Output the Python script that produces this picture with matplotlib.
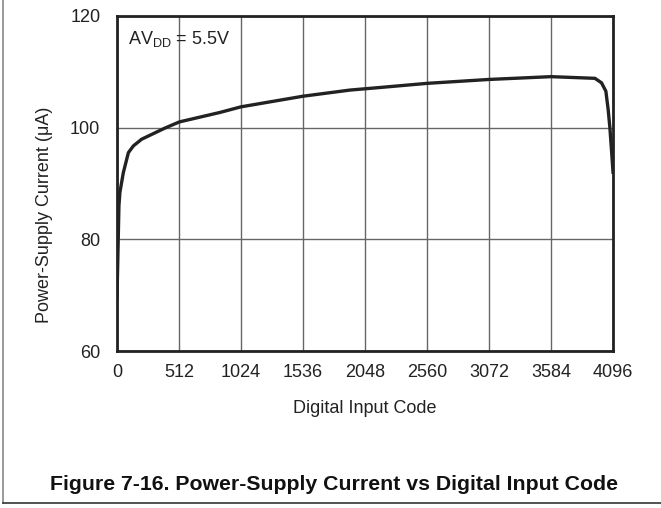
import matplotlib
matplotlib.use("Agg")
import matplotlib.pyplot as plt
from matplotlib.lines import Line2D

plt.rcParams["font.family"] = ["Liberation Sans", "DejaVu Sans"]

# data
code = [0, 16, 24, 52, 94, 135, 203, 314, 396, 515, 851, 1024, 1536, 1924,
        2193, 2560, 3072, 3584, 3947, 4001, 4037, 4056, 4070, 4085, 4096]
current = [69.5, 86.0, 88.4, 91.9, 95.5, 96.7, 97.9, 99.05, 99.9, 101.0, 102.7,
           103.7, 105.6, 106.7, 107.2, 107.9, 108.6, 109.1, 108.8, 108.0,
           106.5, 103.2, 100.0, 95.5, 92.0]
xticks = [0, 512, 1024, 1536, 2048, 2560, 3072, 3584, 4096]
yticks = [60, 80, 100, 120]

fig = plt.figure(figsize=(6.61, 5.08), dpi=100)
ax = fig.add_axes([0.177, 0.309, 0.7504, 0.660])

ax.plot(code, current, color="#222222", linewidth=2.4, solid_joinstyle="round")

ax.set_xlim(0, 4096)
ax.set_ylim(60, 120)
ax.set_xticks(xticks)
ax.set_yticks(yticks)
ax.grid(True, color="#666666", linewidth=1.0)
ax.set_axisbelow(True)
ax.tick_params(axis="both", length=0, labelsize=13, colors="#222222")
ax.tick_params(axis="x", pad=9)
ax.tick_params(axis="y", pad=12)
for s in ax.spines.values():
    s.set_linewidth(2.0)
    s.set_color("#222222")

ax.text(0.022, 0.96, "AV$_{\\mathregular{DD}}$ = 5.5V", transform=ax.transAxes,
        fontsize=13, color="#222222", va="top", ha="left")

fig.text(0.552, 0.195, "Digital Input Code", fontsize=13, color="#222222",
         ha="center", va="center")
fig.text(0.068, 0.577, "Power-Supply Current (\u03bcA)", fontsize=13,
         color="#222222", rotation=90, ha="center", va="center")
fig.text(0.506, 0.047, "Figure 7-16. Power-Supply Current vs Digital Input Code",
         fontsize=15.3, fontweight="bold", color="#111111", ha="center", va="center")

# frame pieces at left and bottom of the figure
fig.add_artist(Line2D([0.0045, 0.0045], [0.0098, 1.0], color="#888888", linewidth=1.2,
                      transform=fig.transFigure))
fig.add_artist(Line2D([0.0045, 1.0], [0.0098, 0.0098], color="#333333", linewidth=1.2,
                      transform=fig.transFigure))

fig.savefig("out.png", dpi=100, facecolor="white")
plt.close(fig)
